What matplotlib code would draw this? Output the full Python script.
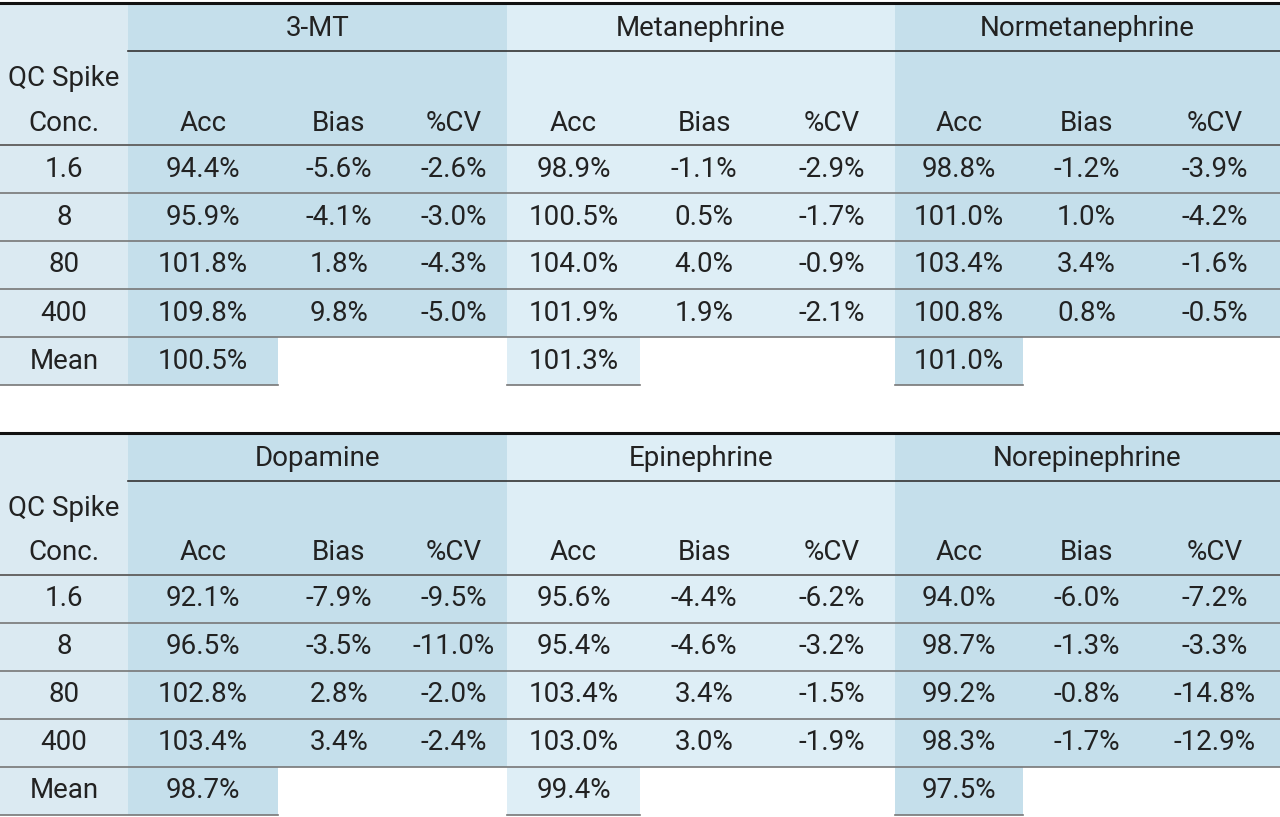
import matplotlib
matplotlib.use('Agg')
import matplotlib.pyplot as plt
import matplotlib.patches as mpatches

# data
groups_top = ['3-MT', 'Metanephrine', 'Normetanephrine']
groups_bottom = ['Dopamine', 'Epinephrine', 'Norepinephrine']
sub_cols = ['Acc', 'Bias', '%CV']
concs = ['1.6', '8', '80', '400']

values_top = [
    ['94.4%', '-5.6%', '-2.6%', '98.9%', '-1.1%', '-2.9%', '98.8%', '-1.2%', '-3.9%'],
    ['95.9%', '-4.1%', '-3.0%', '100.5%', '0.5%', '-1.7%', '101.0%', '1.0%', '-4.2%'],
    ['101.8%', '1.8%', '-4.3%', '104.0%', '4.0%', '-0.9%', '103.4%', '3.4%', '-1.6%'],
    ['109.8%', '9.8%', '-5.0%', '101.9%', '1.9%', '-2.1%', '100.8%', '0.8%', '-0.5%'],
]
means_top = ['100.5%', '101.3%', '101.0%']

values_bottom = [
    ['92.1%', '-7.9%', '-9.5%', '95.6%', '-4.4%', '-6.2%', '94.0%', '-6.0%', '-7.2%'],
    ['96.5%', '-3.5%', '-11.0%', '95.4%', '-4.6%', '-3.2%', '98.7%', '-1.3%', '-3.3%'],
    ['102.8%', '2.8%', '-2.0%', '103.4%', '3.4%', '-1.5%', '99.2%', '-0.8%', '-14.8%'],
    ['103.4%', '3.4%', '-2.4%', '103.0%', '3.0%', '-1.9%', '98.3%', '-1.7%', '-12.9%'],
]
means_bottom = ['98.7%', '99.4%', '97.5%']

DARK = '#c5dfeb'
LIGHT = '#deeef6'
FIRST = '#dbeaf2'
TXT = '#222222'
FONT = 'Roboto'
FS = 20

# column edges per group
edges = [
    [128, 278, 400, 507],
    [507, 640, 768, 895],
    [895, 1023, 1150, 1280],
]
first_w = 128
ROW_H = 48


def txt(ax, x, y, s):
    ax.text(x, y, s, ha='center', va='center', fontsize=FS, color=TXT, family=FONT)


def draw_table(ax, top, groups, values, means):
    head1 = top + 48
    head2 = top + 142
    rows_end = head2 + ROW_H * 4
    mean_end = rows_end + ROW_H

    # backgrounds
    ax.add_patch(mpatches.Rectangle((0, top), first_w, mean_end - top, color=FIRST, lw=0))
    for g in range(3):
        c = DARK if g != 1 else LIGHT
        e = edges[g]
        ax.add_patch(mpatches.Rectangle((e[0], top), e[3] - e[0], rows_end - top, color=c, lw=0))
        ax.add_patch(mpatches.Rectangle((e[0], rows_end), e[1] - e[0], ROW_H, color=c, lw=0))

    # lines
    ax.plot([0, 1280], [top, top], color='#111111', lw=2.2)
    ax.plot([first_w, 1280], [head1, head1], color='#333333', lw=1.2)
    ax.plot([0, 1280], [head2, head2], color='#666666', lw=1.4)
    for r in range(1, 5):
        y = head2 + ROW_H * r
        ax.plot([0, 1280], [y, y], color='#777777', lw=1.2)
    for g in range(3):
        e = edges[g]
        x0 = 0 if g == 0 else e[0]
        ax.plot([x0, e[1]], [mean_end, mean_end], color='#777777', lw=1.2)

    # header text
    txt(ax, first_w / 2, top + 75, 'QC Spike')
    txt(ax, first_w / 2, top + 120, 'Conc.')
    for g, name in enumerate(groups):
        e = edges[g]
        txt(ax, (e[0] + e[3]) / 2, top + 25, name)
        for i, s in enumerate(sub_cols):
            txt(ax, (e[i] + e[i + 1]) / 2, top + 120, s)

    # body
    for r, conc in enumerate(concs):
        yc = head2 + ROW_H * r + ROW_H / 2
        txt(ax, first_w / 2, yc, conc)
        for g in range(3):
            e = edges[g]
            for i in range(3):
                txt(ax, (e[i] + e[i + 1]) / 2, yc, values[r][g * 3 + i])
    yc = rows_end + ROW_H / 2
    txt(ax, first_w / 2, yc, 'Mean')
    for g in range(3):
        e = edges[g]
        txt(ax, (e[0] + e[1]) / 2, yc, means[g])


fig = plt.figure(figsize=(12.8, 8.17), dpi=100)
ax = fig.add_axes([0, 0, 1, 1])
ax.set_xlim(0, 1280)
ax.set_ylim(817, 0)
ax.axis('off')

draw_table(ax, 3, groups_top, values_top, means_top)
draw_table(ax, 433, groups_bottom, values_bottom, means_bottom)

fig.savefig('out.png', dpi=100, facecolor='white')
plt.close(fig)
